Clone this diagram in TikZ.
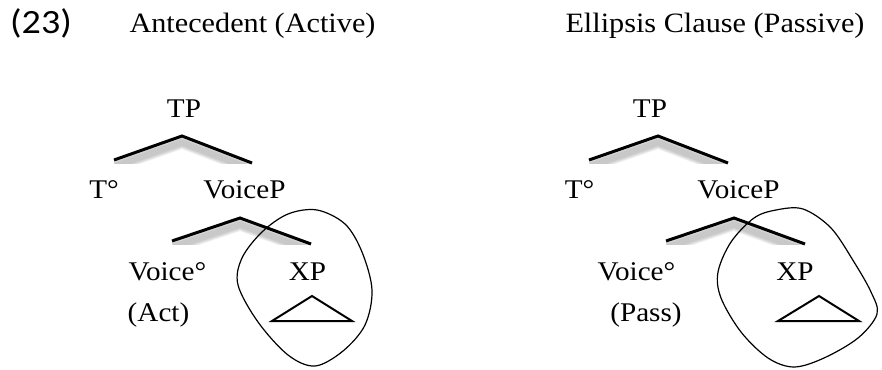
\documentclass[tikz,border=0pt]{standalone}
\usepackage{fontspec}
\setmainfont{Liberation Serif}[FakeStretch=1.08]
\newfontfamily\numfont{Carlito}[FakeStretch=1.12]
\begin{document}
\begin{tikzpicture}[x=1pt,y=-1pt,
  lab/.style={inner sep=0pt,anchor=base,font=\fontsize{27}{32}\selectfont},
  ttl/.style={inner sep=0pt,anchor=base,font=\fontsize{28}{34}\selectfont},
  branch/.style={line width=3pt,line cap=butt,line join=miter},
  tri/.style={line width=2pt,line join=miter},
  loop/.style={line width=1.2pt},
  shade/.style={line width=4pt,gray,opacity=0.12}]
\useasboundingbox (0,0) rectangle (882,369);

% titles
\node[inner sep=0pt,anchor=base west,font=\numfont\fontsize{34}{40}\selectfont] (num) at (10,34) {(23)};
\node[ttl] (tit1) at (252.5,33) {Antecedent (Active)};
\node[ttl] (tit2) at (715,33) {Ellipsis Clause (Passive)};

% ---------- left tree ----------
\node[lab] (TP1) at (184,117) {TP};
\node[lab] (T1) at (104,198) {T°};
\node[lab] (VP1) at (244.5,198) {VoiceP};
\node[lab] (V1) at (167.5,280) {Voice°};
\node[lab] (Act) at (158.5,321) {(Act)};
\node[lab] (XP1) at (307.5,280) {XP};

\coordinate (a1) at (182,136);
\coordinate (l1) at (114,160);
\coordinate (r1) at (252,163);
\coordinate (b1) at (240,218);
\coordinate (m1) at (172,241);
\coordinate (n1) at (311,244);
\coordinate (ta1) at (312,296);
\coordinate (tl1) at (272,321);
\coordinate (tr1) at (352,321);

% ---------- right tree ----------
\node[lab] (TP2) at (650,117) {TP};
\node[lab] (T2) at (579.5,198) {T°};
\node[lab] (VP2) at (738.5,198) {VoiceP};
\node[lab] (V2) at (636.5,280) {Voice°};
\node[lab] (Pass) at (646,321) {(Pass)};
\node[lab] (XP2) at (795,280) {XP};

\coordinate (a2) at (658,136);
\coordinate (l2) at (589,160);
\coordinate (r2) at (728,163);
\coordinate (b2) at (734,218);
\coordinate (m2) at (666,241);
\coordinate (n2) at (805,244);
\coordinate (ta2) at (819,296);
\coordinate (tl2) at (778,321);
\coordinate (tr2) at (859,321);

% shadows under branches
\foreach \a/\l/\r in {a1/l1/r1,b1/m1/n1,a2/l2/r2,b2/m2/n2}{
  \begin{scope}
    \clip (\l |- \a) rectangle (\r);
    \foreach \s in {2,3,...,11}{
      \draw[shade,transform canvas={yshift=-\s pt}] (\l) -- (\a) -- (\r);
    }
  \end{scope}
}

% branches
\draw[branch] (l1) -- (a1) -- (r1);
\draw[branch] (m1) -- (b1) -- (n1);
\draw[branch] (l2) -- (a2) -- (r2);
\draw[branch] (m2) -- (b2) -- (n2);

% triangles
\draw[tri] (ta1) -- (tl1) -- (tr1) -- cycle;
\draw[tri] (ta2) -- (tl2) -- (tr2) -- cycle;

% loops
\draw[loop] plot[smooth cycle,tension=0.55] coordinates {
  (317,210) (345,224) (362,252) (372,290) (365,325) (343,351) (315,366)
  (288,355) (258,322) (238,285) (242,258) (262,232) (288,214)};
\draw[loop] plot[smooth cycle,tension=0.55] coordinates {
  (803,209) (831,228) (854,262) (871,292) (877,314) (858,338) (824,358)
  (794,367) (768,358) (741,332) (721,298) (718,272) (731,242) (754,218) (776,210)};
\end{tikzpicture}
\end{document}
